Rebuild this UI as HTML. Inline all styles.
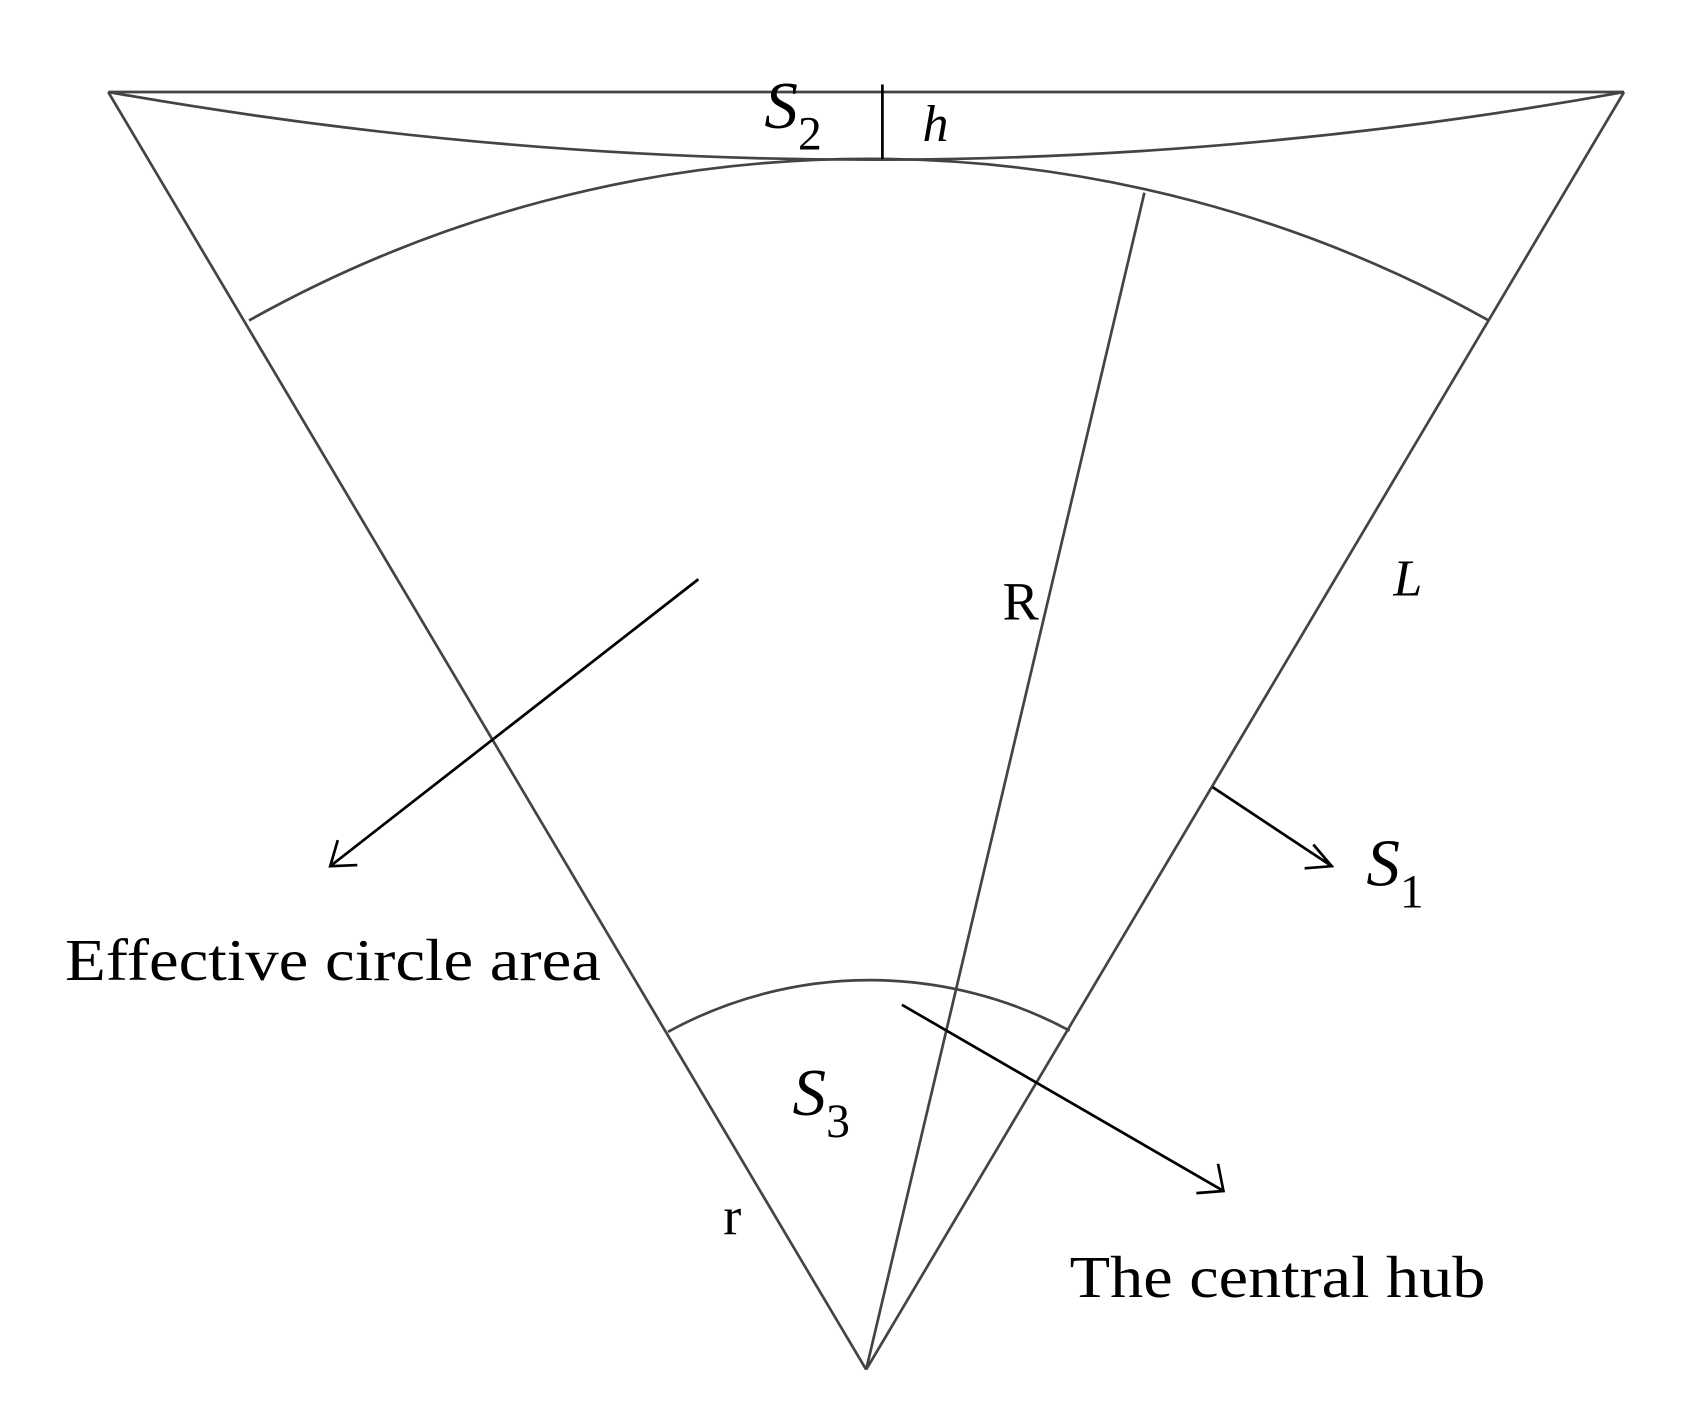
<!DOCTYPE html>
<html><head><meta charset="utf-8"><style>html,body{margin:0;padding:0;background:#fff}svg{display:block}</style></head>
<body>
<svg width="1689" height="1419" viewBox="0 0 1560 1310.6" xmlns="http://www.w3.org/2000/svg" font-family="Liberation Serif, serif">
<g fill="none" stroke="#444" stroke-width="2.5">
<line x1="100" y1="85" x2="1500" y2="85"/>
<line x1="100" y1="85" x2="800" y2="1265"/>
<line x1="1500" y1="85" x2="800" y2="1265"/>
<path d="M100 85 Q808 210 1500 85"/>
<path d="M230 296 A1172 1172 0 0 1 1375 296"/>
<path d="M617 953 A388 388 0 0 1 988 952"/>
<line x1="800" y1="1265" x2="1057" y2="178"/>
</g>
<g fill="none" stroke="#000" stroke-width="2.5">
<line x1="815" y1="78" x2="815" y2="147"/>
<line x1="645" y1="535" x2="305" y2="800"/>
<polyline points="312,776 305,800 330,799"/>
<line x1="1120" y1="727" x2="1230" y2="800"/>
<polyline points="1213,780 1230,800 1205,802"/>
<line x1="833" y1="928" x2="1130" y2="1100"/>
<polyline points="1125,1075 1130,1100 1105,1102"/>
</g>
<g fill="#000" font-size="55">
<text x="706" y="118" font-style="italic" font-size="62">S<tspan font-style="normal" font-size="44" dy="20">2</tspan></text>
<text x="852" y="130" font-style="italic" font-size="48">h</text>
<text x="926" y="572" font-size="50">R</text>
<text x="1287" y="550" font-style="italic" font-size="48">L</text>
<text x="1262" y="818" font-style="italic" font-size="62">S<tspan font-style="normal" font-size="44" dy="20">1</tspan></text>
<text x="732" y="1030" font-style="italic" font-size="62">S<tspan font-style="normal" font-size="44" dy="20">3</tspan></text>
<text x="668" y="1140" font-size="50">r</text>
<text x="60" y="905" textLength="495" lengthAdjust="spacingAndGlyphs">Effective circle area</text>
<text x="988" y="1198" textLength="384" lengthAdjust="spacingAndGlyphs">The central hub</text>
</g>
</svg>
</body></html>
